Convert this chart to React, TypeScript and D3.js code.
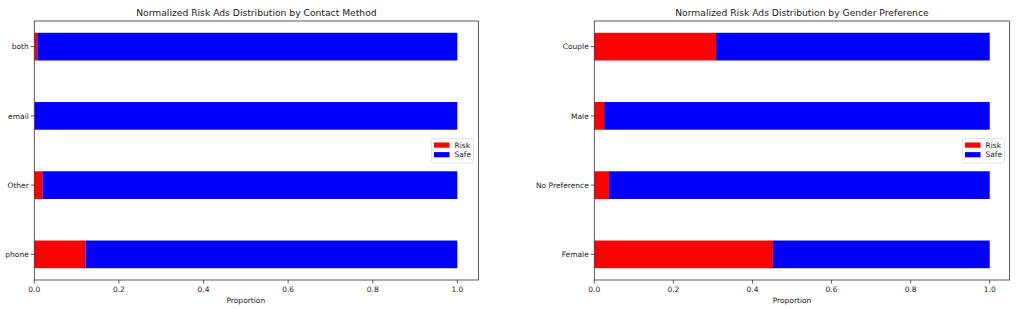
import React from "react";
import * as d3 from "d3";

const contactCategories = ["both", "email", "Other", "phone"];
const contactRisk = [0.007, 0.001, 0.019, 0.121];
const genderCategories = ["Couple", "Male", "No Preference", "Female"];
const genderRisk = [0.308, 0.025, 0.037, 0.452];
const xTicks = [0, 0.2, 0.4, 0.6, 0.8, 1.0];
const seriesNames = ["Risk", "Safe"];
const seriesColors = ["#ff0000", "#0000ff"];

const FONT = "DejaVu Sans, sans-serif";

function Panel({ title, cats, risk, left, right }: { title: string; cats: string[]; risk: number[]; left: number; right: number }) {
  const top = 21, bottom = 280;
  const x = d3.scaleLinear().domain([0, 1.05]).range([left, right]);
  const y = d3.scaleLinear().domain([-0.37, cats.length - 1 + 0.37]).range([top, bottom]);
  const bh = y(0.2) - y(-0.2);
  const rows = cats.map((c, i) => ({ c, i, r: risk[i], s: 1 - risk[i] }));
  const stack = d3.stack<any>().keys(["r", "s"])(rows as any);
  const lx = right - 47, ly = 138.5;
  return (
    <g>
      <text x={(left + right) / 2} y={16} textAnchor="middle" fontSize={9.2} fontFamily={FONT} fill="#222">{title}</text>
      {stack.map((layer, k) =>
        layer.map((d: any, i: number) => (
          <rect key={k + "-" + i} x={x(d[0])} y={y(i) - bh / 2} width={Math.max(0, x(d[1]) - x(d[0]))} height={bh} fill={seriesColors[k]} />
        ))
      )}
      <rect x={left} y={top} width={right - left} height={bottom - top} fill="none" stroke="#333" strokeWidth={0.8} />
      {xTicks.map((t) => (
        <g key={t}>
          <line x1={x(t)} x2={x(t)} y1={bottom} y2={bottom + 3.5} stroke="#333" strokeWidth={0.8} />
          <text x={x(t)} y={bottom + 12} textAnchor="middle" fontSize={7.5} fontFamily={FONT} fill="#222">{t.toFixed(1)}</text>
        </g>
      ))}
      <text x={x(0.5)} y={bottom + 22.5} textAnchor="middle" fontSize={7.5} fontFamily={FONT} fill="#222">Proportion</text>
      {cats.map((c, i) => (
        <g key={c}>
          <line x1={left - 3.5} x2={left} y1={y(i)} y2={y(i)} stroke="#333" strokeWidth={0.8} />
          <text x={left - 5.5} y={y(i) + 2.7} textAnchor="end" fontSize={7.5} fontFamily={FONT} fill="#222">{c}</text>
        </g>
      ))}
      <rect x={lx} y={ly} width={42} height={24.5} rx={2} fill="white" fillOpacity={0.8} stroke="#ddd" strokeWidth={0.8} />
      {seriesNames.map((s, k) => (
        <g key={s}>
          <rect x={lx + 2.5} y={ly + 4 + k * 9.6} width={15.5} height={5.2} fill={seriesColors[k]} />
          <text x={lx + 23} y={ly + 9.3 + k * 9.6} fontSize={7.5} fontFamily={FONT} fill="#222">{s}</text>
        </g>
      ))}
    </g>
  );
}

export default function App() {
  return (
    <svg width={1016} height={309} style={{ position: "absolute", left: 0, top: 0, background: "white" }}>
      <rect width={1016} height={309} fill="white" />
      <Panel title="Normalized Risk Ads Distribution by Contact Method" cats={contactCategories} risk={contactRisk} left={34.3} right={478.5} />
      <Panel title="Normalized Risk Ads Distribution by Gender Preference" cats={genderCategories} risk={genderRisk} left={594.3} right={1009.5} />
    </svg>
  );
}
